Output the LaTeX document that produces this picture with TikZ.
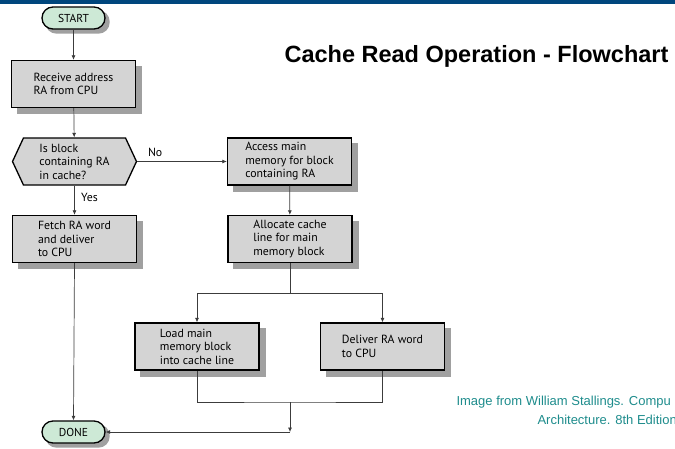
\documentclass[tikz,border=0pt]{standalone}
\usepackage{fontspec}
\setmainfont{PT Sans}
\newfontfamily\arialfont{Liberation Sans}
\usetikzlibrary{arrows.meta, positioning, shapes.symbols, backgrounds}

\definecolor{barblue}{RGB}{0,70,125}
\definecolor{termgreen}{RGB}{205,233,214}
\definecolor{boxgray}{RGB}{212,212,212}
\definecolor{shadegray}{RGB}{160,160,160}
\definecolor{linegray}{RGB}{60,60,60}
\definecolor{credteal}{RGB}{30,140,140}

\begin{document}
\begin{tikzpicture}[
    x=1pt, y=1pt,
    >={Latex[length=4.5pt, width=4pt]},
    box/.style={rectangle, draw=black, line width=1.3pt, fill=boxgray,
        minimum width=124pt, minimum height=47pt, align=left,
        font=\fontsize{11.8}{13.5}\selectfont},
    terminal/.style={rectangle, rounded corners=11pt, draw=black, line width=1.3pt,
        fill=termgreen, minimum width=63pt, minimum height=22pt,
        font=\fontsize{11.5}{13}\selectfont},
    decision/.style={signal, signal to=west and east, signal pointer angle=130,
        draw=black, line width=1.3pt, fill=boxgray, minimum width=124pt,
        minimum height=47pt, inner xsep=2pt, align=left,
        font=\fontsize{11.8}{13.5}\selectfont},
    flow/.style={draw=linegray, line width=0.7pt},
    tag/.style={font=\fontsize{11.8}{13}\selectfont},
    boxshade/.style={fill=shadegray}
]

    % frame and title bar
    \useasboundingbox (0,0) rectangle (675,-448);
    \fill[barblue] (0,0) rectangle (675,-3.5);

    % === Left column ===
    \node[terminal] (start) at (73.5,-18) {START};
    \node[box] (recv) at (73.5,-84) {Receive address\\RA from CPU};
    \node[decision] (test) at (74.5,-161.5) {Is block\\containing RA\\in cache?};
    \node[box] (fetch) at (74.5,-239) {Fetch RA word\\and deliver\\to CPU};
    \node[terminal] (done) at (73.5,-432) {DONE};

    % === Right column ===
    \node[box] (access) at (289.5,-161.5) {Access main\\memory for block\\containing RA};
    \node[box] (alloc) at (290,-239) {Allocate cache\\line for main\\memory block};
    \node[box] (load) at (197,-346.5) {Load main\\memory block\\into cache line};
    \node[box] (deliver) at (382.5,-346.5) {Deliver RA word\\to CPU};

    % === Shadows behind the boxes ===
    \begin{scope}[on background layer]
        \foreach \n in {recv, fetch, access, alloc, load, deliver}
            \fill[boxshade] ([shift={(6,-6)}]\n.south west) rectangle ([shift={(6,-6)}]\n.north east);
        \foreach \n in {start, done}
            \fill[boxshade, rounded corners=11pt]
                ([shift={(4,-4)}]\n.south west) rectangle ([shift={(4,-4)}]\n.north east);
    \end{scope}

    % helper points for the split and merge
    \coordinate (split) at (290,-293);
    \coordinate (merge) at (290,-402);
    \coordinate (turn) at (290,-432);

    % === Connectors ===
    \draw[flow, ->] (start) -- (recv);
    \draw[flow, ->] (recv) -- (test);
    \draw[flow, ->] (test.east) -- (access.west) node[tag, pos=0.2, above=1pt] {No};
    \draw[flow, ->] (test.south) -- (fetch.north) node[tag, pos=0.4, right=3pt] {Yes};
    \draw[flow, ->] (access) -- (alloc);
    \draw[flow] (alloc.south) -- (split);
    \draw[flow, ->] (split) -| (load.north);
    \draw[flow, ->] (split) -| (deliver.north);
    \draw[flow] (load.south) |- (merge) -| (deliver.south);
    \draw[flow, ->] (merge) -- (turn);
    \draw[flow, ->] (turn) -- (done.east);
    \draw[flow, ->] (fetch.south) -- (done.north);

    % === Title and credit ===
    \node[font=\arialfont\bfseries\fontsize{23.5}{28}\selectfont] (title) at (476.5,-56)
        {Cache Read Operation - Flowchart};
    \node[anchor=west, text=credteal, font=\arialfont\fontsize{13}{15}\selectfont]
        (credA) at (453,-402) {Image from William Stallings. Compu};
    \node[anchor=west, text=credteal, font=\arialfont\fontsize{13}{15}\selectfont]
        (credB) at (534,-420) {Architecture. 8th Edition};

\end{tikzpicture}
\end{document}
